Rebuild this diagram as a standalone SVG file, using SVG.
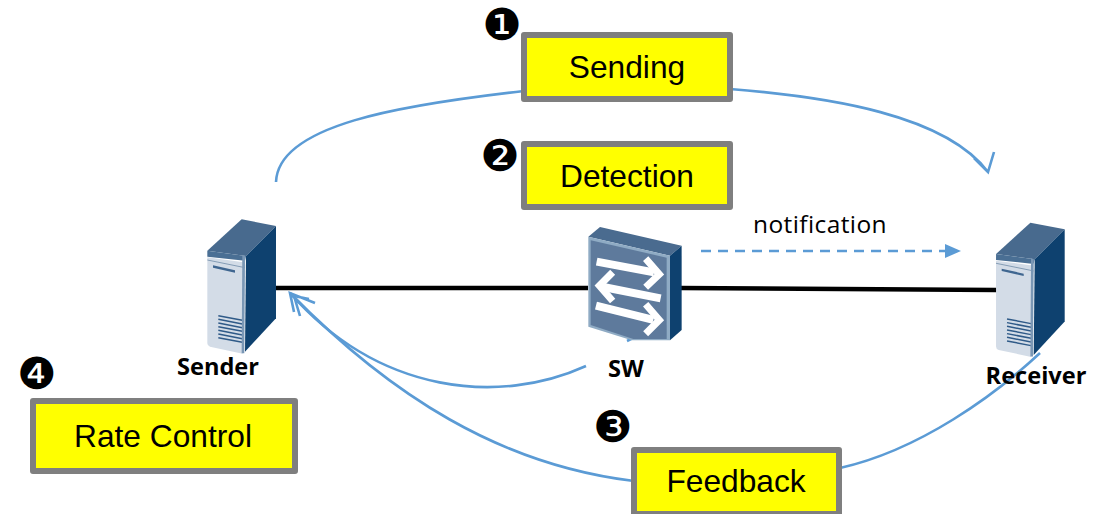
<svg xmlns="http://www.w3.org/2000/svg" width="1101" height="514" viewBox="0 0 1101 514">
<style>
.box{fill:#ffff00;stroke:#7f7f7f;stroke-width:6;stroke-linejoin:round}
.bt{font-family:"Liberation Sans",Arial,sans-serif;font-size:31.7px;fill:#000;text-anchor:middle}
.lb{font-family:"Open Sans","Noto Sans",sans-serif;font-weight:700;font-size:23.6px;fill:#000;text-anchor:middle}
.num{font-family:"DejaVu Sans",sans-serif;font-size:44px;fill:#000;text-anchor:middle}
.c{fill:none;stroke:#5b9bd5;stroke-width:2.6}
.ar{fill:none;stroke:#fff;stroke-width:24}
.ah{fill:none;stroke:#fff;stroke-width:21}
</style>
<defs>
<g id="server">
<path d="M52 152L155 58L258 78L168 168Z" fill="#486a8e"/>
<path d="M168 168L258 78V355L165 455Z" fill="#0e416f"/>
<path d="M52 152L168 168L165 182L52 170Z" fill="#4a6f94"/>
<path d="M52 172L155 186L165 178L158 461L60 440Q52 438 52 430Z" fill="#d3dce7"/>
<path d="M52 180L165 203" stroke="#5c7b9c" stroke-width="2" fill="none"/>
<path d="M69 196L135 211V218L69 203Z" fill="#3f6690"/>
<path d="M85 347L157 361M85 358L157 372M85 369L157 383M85 380L157 394M85 391L157 405M85 402L157 416M85 413L157 427" stroke="#2f5a88" stroke-width="4.5" fill="none"/>
<path d="M157 165L165 168L163 460L155 460Z" fill="#7a97b5"/>
</g>
</defs>
<g id="connectors">
<path d="M276 288L588 288" stroke="#000" stroke-width="4.5" fill="none"/>
<path d="M680 288L997 290" stroke="#000" stroke-width="4.5" fill="none"/>
<path class="c" d="M276 182C278 125 400 105 524 91"/>
<path class="c" d="M730 89C830 97 945 115 988 172M974 158L988 172L994 152"/>
<path class="c" stroke-dasharray="10 7" d="M701 251L945 251"/>
<path d="M945 244L961 251L945 258Z" fill="#5b9bd5"/>
<path class="c" d="M586 366C500 405 380 395 290 293M315 303L290 293L294 312M309 299L294 296L300 316"/>
<path class="c" d="M634 481C500 465 390 395 290 293"/>
<path class="c" d="M840 468C920 450 995 395 1040 353"/>
<path class="c" d="M627 341L633 338"/>
</g>
<g id="sender"><use href="#server" transform="translate(190,200) scale(.3333)"/><text class="lb" x="218" y="375">Sender</text></g>
<g id="sw">
<g transform="translate(570,215) scale(.3333)">
<path d="M55 65L90 36L335 92L300 122Z" fill="#4a6b8f"/>
<path d="M300 122L335 92V345L300 376Z" fill="#0e416f"/>
<path d="M55 65L300 122V376H185L55 335Z" fill="#8fabc4"/>
<path d="M62 76L290 128V372H190L62 330Z" fill="#5e7a9c"/>
<path class="ar" d="M80 140L252 172"/>
<path class="ah" d="M227 131L268 178L227 217"/>
<path class="ar" d="M272 250L100 216"/>
<path class="ah" d="M128 172L88 212L128 258"/>
<path class="ar" d="M78 272L250 315"/>
<path class="ah" d="M227 268L268 315L227 356"/>
</g>
<text class="lb" x="626" y="377">SW</text>
</g>
<g id="receiver"><use href="#server" transform="translate(978.7,203.3) scale(.3333)"/><text class="lb" x="1036" y="384">Receiver</text></g>
<text x="820" y="233" font-family="'Open Sans','Noto Sans',sans-serif" font-size="24.5" text-anchor="middle" letter-spacing=".4" fill="#000">notification</text>
<g id="sending"><text class="num" x="502" y="40">❶</text><rect class="box" x="524" y="35" width="206" height="64"/><text class="bt" x="627" y="78">Sending</text></g>
<g id="detection"><text class="num" x="500" y="171">❷</text><rect class="box" x="524" y="144" width="206" height="63"/><text class="bt" x="627" y="187">Detection</text></g>
<g id="feedback"><text class="num" x="613" y="442">❸</text><rect class="box" x="634" y="450" width="205" height="64"/><text class="bt" x="736" y="492">Feedback</text></g>
<g id="rate-control"><text class="num" x="37" y="389">❹</text><rect class="box" x="33" y="401" width="262" height="70"/><text class="bt" x="163" y="447">Rate Control</text></g>
</svg>
